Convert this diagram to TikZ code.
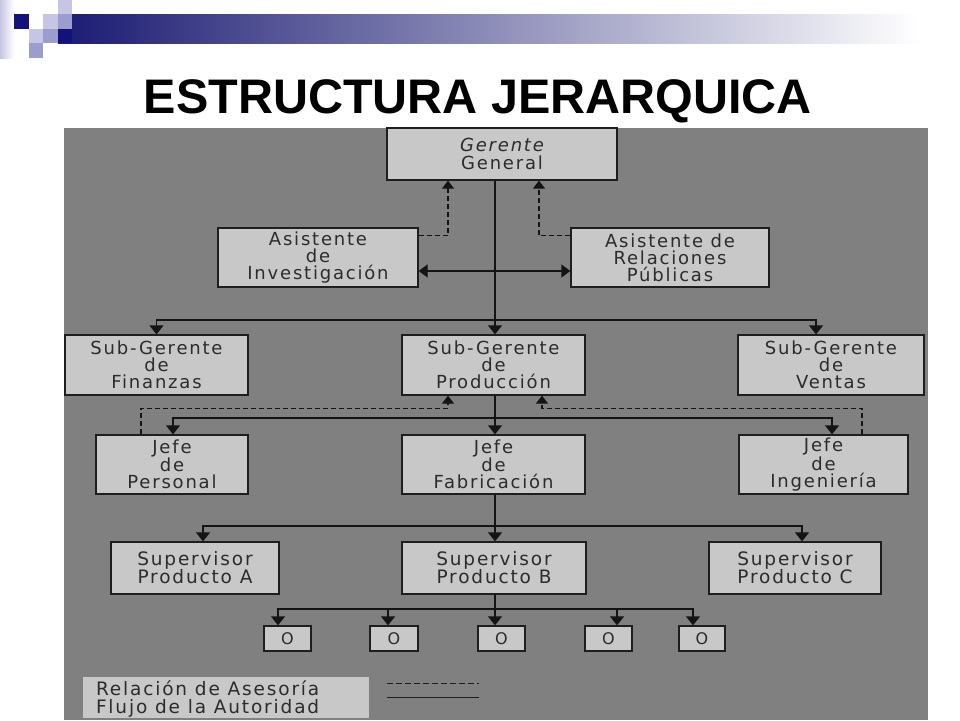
\documentclass[tikz,border=0pt]{standalone}
\usepackage{fontspec}
\setmainfont{DejaVu Sans}
\newfontfamily\titlefont{Liberation Sans}
\newfontfamily\boxfont[LetterSpace=10]{DejaVu Sans}
\newfontfamily\legfont[LetterSpace=10]{DejaVu Sans}
\usetikzlibrary{arrows.meta}
\definecolor{bggray}{HTML}{808080}
\definecolor{boxfill}{HTML}{C8C8C8}
\definecolor{boxline}{HTML}{1E1E1E}
\definecolor{boxtext}{HTML}{2C2C2C}
\definecolor{linec}{HTML}{141414}
\definecolor{navy}{HTML}{1A1A72}
\definecolor{lav}{HTML}{C6C6E4}
\definecolor{midlav}{HTML}{9C9CCF}
\definecolor{deepnavy}{HTML}{12127A}
\tikzset{
  box/.style={draw=boxline, fill=boxfill, line width=1.3pt, inner sep=0pt,
    text=boxtext, font=\boxfont\fontsize{18}{17}\selectfont, align=center,
    minimum height=60pt},
  zbox/.style={box, minimum height=25pt, minimum width=47pt,
    font=\boxfont\fontsize{16}{16}\selectfont},
  auth/.style={draw=linec, line width=1.3pt},
  authar/.style={auth, -{Triangle[width=14pt,length=9pt]}},
  authbi/.style={auth, {Triangle[width=13pt,length=9pt]}-{Triangle[width=13pt,length=9pt]}},
  advar/.style={draw=linec, line width=1.3pt, dash pattern=on 5pt off 3pt,
    -{Triangle[width=12pt,length=8pt]}},
  legendbox/.style={fill=boxfill, draw=none, inner sep=0pt},
  legendtext/.style={text=boxtext, font=\legfont\fontsize{18.5}{18}\selectfont,
    align=left, inner sep=0pt},
  legdash/.style={draw=boxline, line width=1pt, dash pattern=on 6pt off 3pt},
  legsolid/.style={draw=boxline, line width=1pt},
}
\begin{document}
\begin{tikzpicture}[x=1pt,y=-1pt]
\useasboundingbox (0,0) rectangle (960,720);
\fill[white] (0,0) rectangle (960,720);
% decoration
\shade[left color=lav, right color=white] (0,0) rectangle (14,58);
\shade[left color=navy, right color=white] (58,14) rectangle (920,43);
\fill[deepnavy] (14,14) rectangle (29,29);
\fill[lav] (58,0) rectangle (72,14);
\fill[lav] (43,14) rectangle (58,29);
\fill[midlav] (58,14) rectangle (72,29);
\fill[deepnavy] (58,29) rectangle (72,43);
\fill[midlav] (43,29) rectangle (58,43);
\fill[lav] (29,29) rectangle (43,43);
\fill[midlav] (29,43) rectangle (43,58);
% title
\node[font=\titlefont\bfseries\fontsize{48.5}{50}\selectfont, anchor=base, inner sep=0pt] (title) at (478,113) {ESTRUCTURA JERARQUICA};
% background
\fill[bggray] (64,128) rectangle (928,720);
% boxes
\node[box, minimum width=230pt, minimum height=52pt, font=\boxfont\fontsize{18}{18}\selectfont] (gg) at (502,154) {{\itshape Gerente}\\General};
\node[box, minimum width=200pt, minimum height=59pt] (ai) at (318,257.5) {Asistente\\de\\Investigación};
\node[box, minimum width=198pt, minimum height=59pt] (ar) at (670,257.5) {Asistente de\\Relaciones\\Públicas};
\node[box, minimum width=183pt] (sf) at (156.5,365) {Sub-Gerente\\de\\Finanzas};
\node[box, minimum width=183pt] (sp) at (493.5,365) {Sub-Gerente\\de\\Producción};
\node[box, minimum width=186pt] (sv) at (831,365) {Sub-Gerente\\de\\Ventas};
\node[box, minimum width=152pt, minimum height=59pt] (jp) at (172,464.5) {Jefe\\de\\Personal};
\node[box, minimum width=183pt, minimum height=59pt] (jf) at (493.5,464.5) {Jefe\\de\\Fabricación};
\node[box, minimum width=169pt, minimum height=59pt] (ji) at (823.5,464.5) {Jefe\\de\\Ingeniería};
\node[box, minimum width=168pt, minimum height=52pt, font=\boxfont\fontsize{18.5}{18}\selectfont] (spa) at (195,568) {Supervisor\\Producto A};
\node[box, minimum width=184pt, minimum height=52pt, font=\boxfont\fontsize{18.5}{18}\selectfont] (spb) at (494,568) {Supervisor\\Producto B};
\node[box, minimum width=172pt, minimum height=52pt, font=\boxfont\fontsize{18.5}{18}\selectfont] (spc) at (795,568) {Supervisor\\Producto C};
\node[zbox] (z1) at (287.5,638.5) {O};
\node[zbox, minimum width=48pt] (z2) at (394,638.5) {O};
\node[zbox] (z3) at (501.5,638.5) {O};
\node[zbox] (z4) at (608.5,638.5) {O};
\node[zbox, minimum width=46pt] (z5) at (702,638.5) {O};
% legend
\node[legendbox, minimum width=286pt, minimum height=41pt] (lg) at (226,697.5) {};
\node[legendtext, anchor=west] (lgt) at ([xshift=13pt,yshift=-2pt]lg.west) {Relación de Asesoría\\Flujo de la Autoridad};
\coordinate (lgd) at ([xshift=18pt,yshift=14.5pt]lg.east);
\coordinate (lgs) at ([xshift=18pt,yshift=0.5pt]lg.east);
\draw[legdash] (lgd) -- ++(92,0);
\draw[legsolid] (lgs) -- ++(92,0);
% connectors
\coordinate (spine) at (495,0);
\coordinate (bus1) at (495,320);
\coordinate (bus2) at (495,418);
\coordinate (bus3) at (495,526);
\coordinate (bus4) at (495,609);
\draw[authar] (gg.south -| spine) -- (sp.north -| spine);
\draw[authar] (bus1) -| (sf.north);
\draw[authar] (bus1) -| ([xshift=-15pt]sv.north);
\draw[advar] ([yshift=-8pt]ai.north east) -| ([xshift=-54pt]gg.south);
\draw[advar] ([yshift=-8pt]ar.north west) -| ([xshift=37pt]gg.south);
\draw[authbi] ([yshift=-13.5pt]ai.east) -- ([yshift=-13.5pt]ar.west);
\draw[authar] (sp.south -| spine) -- (jf.north -| spine);
\draw[authar] (bus2) -| ([xshift=1pt]jp.north);
\draw[authar] (bus2) -| ([xshift=8.5pt]ji.north);
\draw[advar] ([xshift=-31pt]jp.north) -- ++(0,-26) -| ([xshift=-45.5pt]sp.south);
\draw[advar] ([xshift=38.5pt]ji.north) -- ++(0,-26) -| ([xshift=48.5pt]sp.south);
\draw[authar] (jf.south -| spine) -- (spb.north -| spine);
\draw[authar] (bus3) -| ([xshift=8pt]spa.north);
\draw[authar] (bus3) -| ([xshift=7pt]spc.north);
\draw[authar] (spb.south -| spine) -- (z3.north -| spine);
\draw[authar] (bus4) -| ([xshift=-9.5pt]z1.north);
\draw[authar] (bus4) -| ([xshift=-6pt]z2.north);
\draw[authar] (bus4) -| ([xshift=8.5pt]z4.north);
\draw[authar] (bus4) -| ([xshift=-9pt]z5.north);
\end{tikzpicture}
\end{document}
